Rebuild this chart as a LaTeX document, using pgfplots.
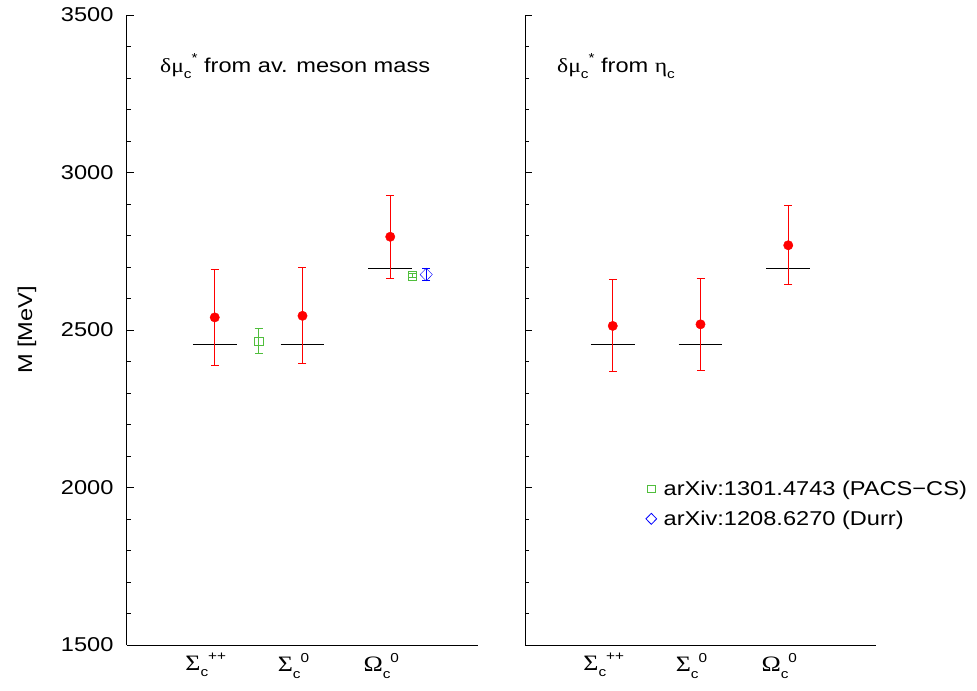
\documentclass[border=0pt]{standalone}
\usepackage{pgfplots}
\pgfplotsset{compat=1.18}
\usepackage{fontspec}
\setmainfont{Liberation Sans}[FakeStretch=1.18]
\newfontfamily\greek{Liberation Serif}[FakeStretch=1.18]
\newcommand\fs{\fontsize{20bp}{24bp}\selectfont}
\newcommand\gbig{\fontsize{22bp}{24bp}\selectfont\greek}
\newcommand\sub[1]{\raisebox{-6.5bp}{\fontsize{13bp}{13bp}\selectfont #1}}
\newcommand\sups[1]{\raisebox{9.5bp}{\fontsize{13bp}{13bp}\selectfont #1}}
\definecolor{pgreen}{RGB}{80,190,60}
\pgfplotsset{
  panel/.style={
    scale only axis, width=351bp, height=630bp,
    xmin=0, xmax=4, ymin=1500, ymax=3500,
    axis x line*=bottom, axis y line*=left,
    axis line style={-, line width=1pt, black},
    ytick={1500,2000,...,3500},
    minor ytick={1600,1700,...,3400},
    tick align=inside,
    major tick length=7bp, minor tick length=4bp,
    every tick/.style={black, line width=0.8pt},
    xtick={1,2,3},
    xticklabels={{\gbig Σ}\sub{c}\sups{++},{\gbig Σ}\sub{c}\sups{0},{\gbig Ω}\sub{c}\sups{0}},
    x tick style={draw=none},
    xticklabel style={yshift=-4.5bp, xshift=-9bp},
    tick label style={font=\fs},
    label style={font=\fs},
    /pgf/number format/assume math mode=true,
    /pgf/number format/1000 sep={},
    clip=false,
  },
  errred/.style={red, only marks, mark=*, mark size=4.7bp,
    error bars/.cd, y dir=both, y explicit,
    error bar style={red, line width=1pt},
    error mark options={rotate=90, mark size=4bp, red, line width=1pt}},
}
\begin{document}
\begin{tikzpicture}
\path[use as bounding box] (-127bp,-46bp) rectangle (850bp,645bp);
% left panel
\begin{axis}[panel, at={(0,0)}, anchor=south west,
  ylabel={M [MeV]},
  ylabel style={at={(axis description cs:-0.285,0.5)}, anchor=center},
  yticklabel style={xshift=-10bp}]
\addplot[black, line width=1pt] coordinates {(0.75,2454) (1.25,2454)};
\addplot[black, line width=1pt] coordinates {(1.75,2454) (2.25,2454)};
\addplot[black, line width=1pt] coordinates {(2.75,2695) (3.25,2695)};
\addplot[errred] coordinates {(1,2540) +- (0,152) (2,2545) +- (0,152) (3,2796) +- (0,132)};
\addplot[pgreen, only marks, mark=square, mark size=4.3bp,
  error bars/.cd, y dir=both, y explicit,
  error bar style={pgreen, line width=1pt},
  error mark options={rotate=90, mark size=4bp, pgreen, line width=1pt}]
  coordinates {(1.5,2465) +- (0,40) (3.25,2673) +- (0,6)};
\addplot[blue, only marks, mark=diamond, mark size=6.3bp, mark options={xscale=1.3},
  error bars/.cd, y dir=both, y explicit,
  error bar style={blue, line width=1pt},
  error mark options={rotate=90, mark size=4bp, blue, line width=1pt}]
  coordinates {(3.41,2676) +- (0,20)};
\node[anchor=base west, font=\fs, inner sep=0pt] at (axis cs:0.376,3318)
  {{\greek δμ}\sub{c}\sups{*} from av. meson mass};
\end{axis}
% right panel
\begin{axis}[panel, at={(398bp,0)}, anchor=south west,
  yticklabels={},
  legend style={draw=none, fill=none, font=\fs, at={(rel axis cs:0.344,0.264)}, anchor=north west,
    row sep=10bp, inner sep=0pt,
    /tikz/every odd column/.append style={column sep=5bp}},
  legend cell align=left]
\addplot[forget plot, black, line width=1pt] coordinates {(0.75,2454) (1.25,2454)};
\addplot[forget plot, black, line width=1pt] coordinates {(1.75,2454) (2.25,2454)};
\addplot[forget plot, black, line width=1pt] coordinates {(2.75,2695) (3.25,2695)};
\addplot[forget plot, errred] coordinates {(1,2513) +- (0,146) (2,2518) +- (0,145) (3,2769) +- (0,126)};
\addlegendimage{only marks, mark=square, pgreen, mark size=3.8bp, line width=0.8pt}
\addlegendentry{arXiv:1301.4743 (PACS−CS)}
\addlegendimage{only marks, mark=diamond, blue, mark size=5.5bp, mark options={xscale=1.3}, line width=0.8pt}
\addlegendentry{arXiv:1208.6270 (Durr)}
\node[anchor=base west, font=\fs, inner sep=0pt] at (axis cs:0.364,3318)
  {{\greek δμ}\sub{c}\sups{*} from {\greek η}\sub{c}};
\end{axis}
\end{tikzpicture}
\end{document}
